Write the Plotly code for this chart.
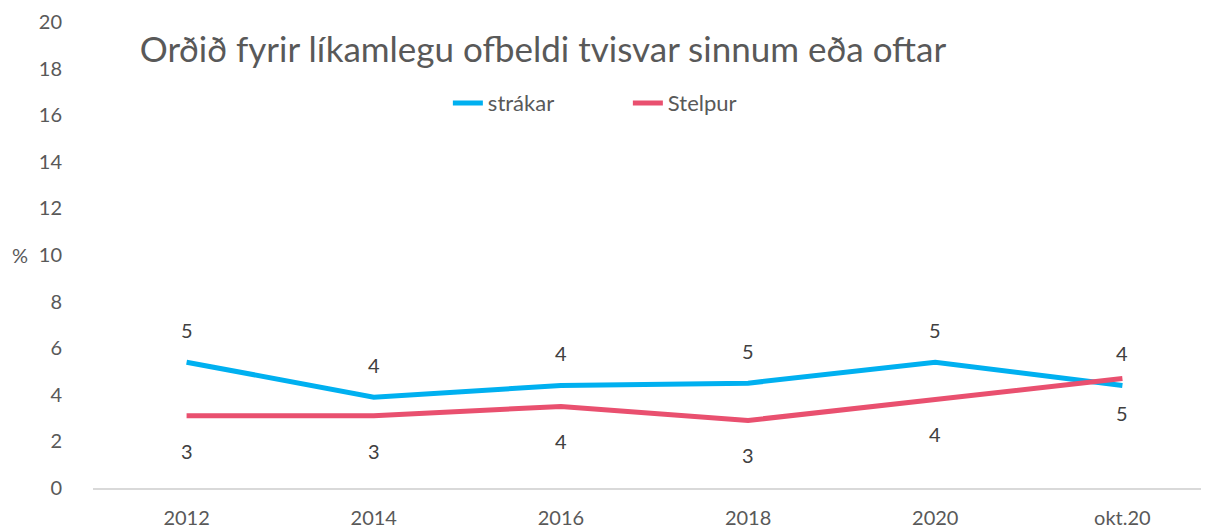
import plotly.graph_objects as go

categories = ["2012", "2014", "2016", "2018", "2020", "okt.20"]
strakar = [5.4, 3.9, 4.4, 4.5, 5.4, 4.4]
stelpur = [3.1, 3.1, 3.5, 2.9, 3.8, 4.7]
title = "Orðið fyrir líkamlegu ofbeldi tvisvar sinnum eða oftar"

FONT = "Lato"
TXT = "#595959"
fig = go.Figure()
fig.add_trace(go.Scatter(
    x=categories, y=strakar, name="strákar", mode="lines",
    line=dict(color="#00B0F0", width=5),
))
fig.add_trace(go.Scatter(
    x=categories, y=stelpur, name="Stelpur", mode="lines",
    line=dict(color="#E9506F", width=5),
))
for i, v in enumerate(strakar):
    fig.add_annotation(x=i, y=v, text=str(int(v + 0.5)), showarrow=False,
                       yshift=32, font=dict(size=20, color="#404040", family=FONT))
for i, v in enumerate(stelpur):
    fig.add_annotation(x=i, y=v, text=str(int(v + 0.5)), showarrow=False,
                       yshift=-35, font=dict(size=20, color="#404040", family=FONT))

fig.update_layout(
    width=1209, height=529,
    margin=dict(l=85, r=1, t=14, b=49),
    paper_bgcolor="white", plot_bgcolor="white",
    font=dict(family=FONT, color=TXT, size=20),
    title=dict(text=title, x=0.109, xanchor="left", y=0.9206, yanchor="middle",
               font=dict(size=35, color=TXT, family=FONT)),
    legend=dict(orientation="h", x=0.316, xanchor="left", y=0.826, yanchor="middle",
                font=dict(size=22, color=TXT), bgcolor="rgba(0,0,0,0)",
                entrywidth=135),
    showlegend=True,
)
fig.update_xaxes(type="category", range=[-0.5, 5.5], showgrid=False,
                 showline=True, linecolor="#D9D9D9", linewidth=2,
                 ticks="", automargin=False, ticklabelstandoff=11,
                 tickfont=dict(size=20, color=TXT))
fig.update_yaxes(range=[0, 20], dtick=2, showgrid=False, zeroline=False,
                 showline=False, ticks="", ticklabelstandoff=30, automargin=False,
                 tickfont=dict(size=20, color=TXT))
fig.add_annotation(text="%", xref="paper", yref="paper", x=-0.074, y=0.5,
                   xanchor="left", yanchor="middle", showarrow=False,
                   font=dict(size=20, color=TXT))
fig.write_html("out.html")
